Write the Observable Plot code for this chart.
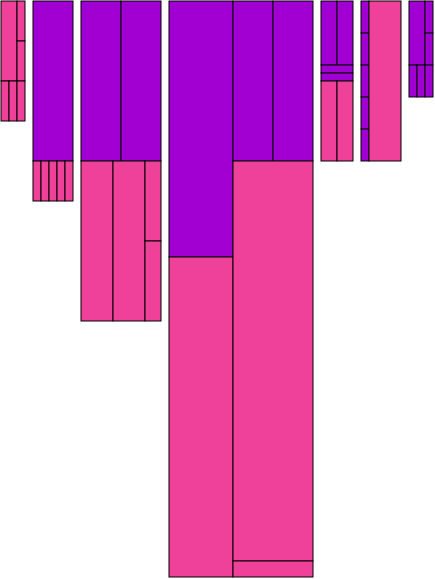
<!DOCTYPE html>
<html>
<head>
<meta charset="utf-8">
<script src="https://cdn.jsdelivr.net/npm/d3@7"></script>
<script src="https://cdn.jsdelivr.net/npm/@observablehq/plot@0.6"></script>
<style>
  html, body { margin: 0; padding: 0; background: #fff; }
</style>
</head>
<body>
<div id="chart"></div>
<script>
// Cells of the mosaic, in grid units (one unit = one cell module)
const group    = ["A","A","A","A","A","A",
                  "B","B","B","B","B","B",
                  "C","C","C","C","C","C",
                  "D","D","D","D","D","D",
                  "E","E","E","E","E","E",
                  "F","F","F","F","F","F",
                  "G","G","G","G","G","G"];
const category = ["B","B","B","B","B","B",
                  "A","B","B","B","B","B",
                  "A","A","B","B","B","B",
                  "A","A","A","B","B","B",
                  "A","A","A","A","B","B",
                  "A","A","A","A","A","B",
                  "A","A","A","A","A","A"];
const cellX1 = [0,2,2,0,1,2,
                4,4,5,6,7,8,
                10,15,10,14,18,18,
                21,29,34,21,29,29,
                40,42,40,40,40,42,
                45,45,45,45,45,46,
                51,53,53,51,52,53];
const cellX2 = [2,3,3,1,2,3,
                9,5,6,7,8,9,
                15,20,14,18,20,20,
                29,34,39,29,39,39,
                42,44,44,44,42,44,
                46,46,46,46,46,50,
                53,54,54,52,53,54];
const cellY1 = [0,0,5,10,10,10,
                0,20,20,20,20,20,
                0,0,20,20,20,30,
                0,0,0,32,20,70,
                0,0,8,9,10,10,
                0,4,8,12,16,0,
                0,0,4,8,8,8];
const cellY2 = [10,5,10,15,15,15,
                20,25,25,25,25,25,
                20,20,40,40,30,40,
                32,20,20,72,70,72,
                8,8,9,10,20,20,
                4,8,12,16,20,20,
                8,4,8,12,12,12];

const categories = ["A","B"];
const colors = ["#a200d2","#f0419a"];

const cells = group.map((g, i) => ({
  group: g, category: category[i],
  x1: cellX1[i], x2: cellX2[i], y1: cellY1[i], y2: cellY2[i]
}));

const chart = Plot.plot({
  width: 435,
  height: 579,
  marginLeft: 1,
  marginRight: 2,
  marginTop: 1,
  marginBottom: 2,
  x: {domain: [0, 54], axis: null},
  y: {domain: [0, 72], reverse: true, axis: null},
  color: {type: "ordinal", domain: categories, range: colors},
  marks: [
    Plot.rect(cells, {
      x1: "x1", x2: "x2", y1: "y1", y2: "y2",
      fill: "category",
      stroke: "black",
      strokeWidth: 1
    })
  ]
});
document.getElementById("chart").appendChild(chart);
</script>
</body>
</html>
